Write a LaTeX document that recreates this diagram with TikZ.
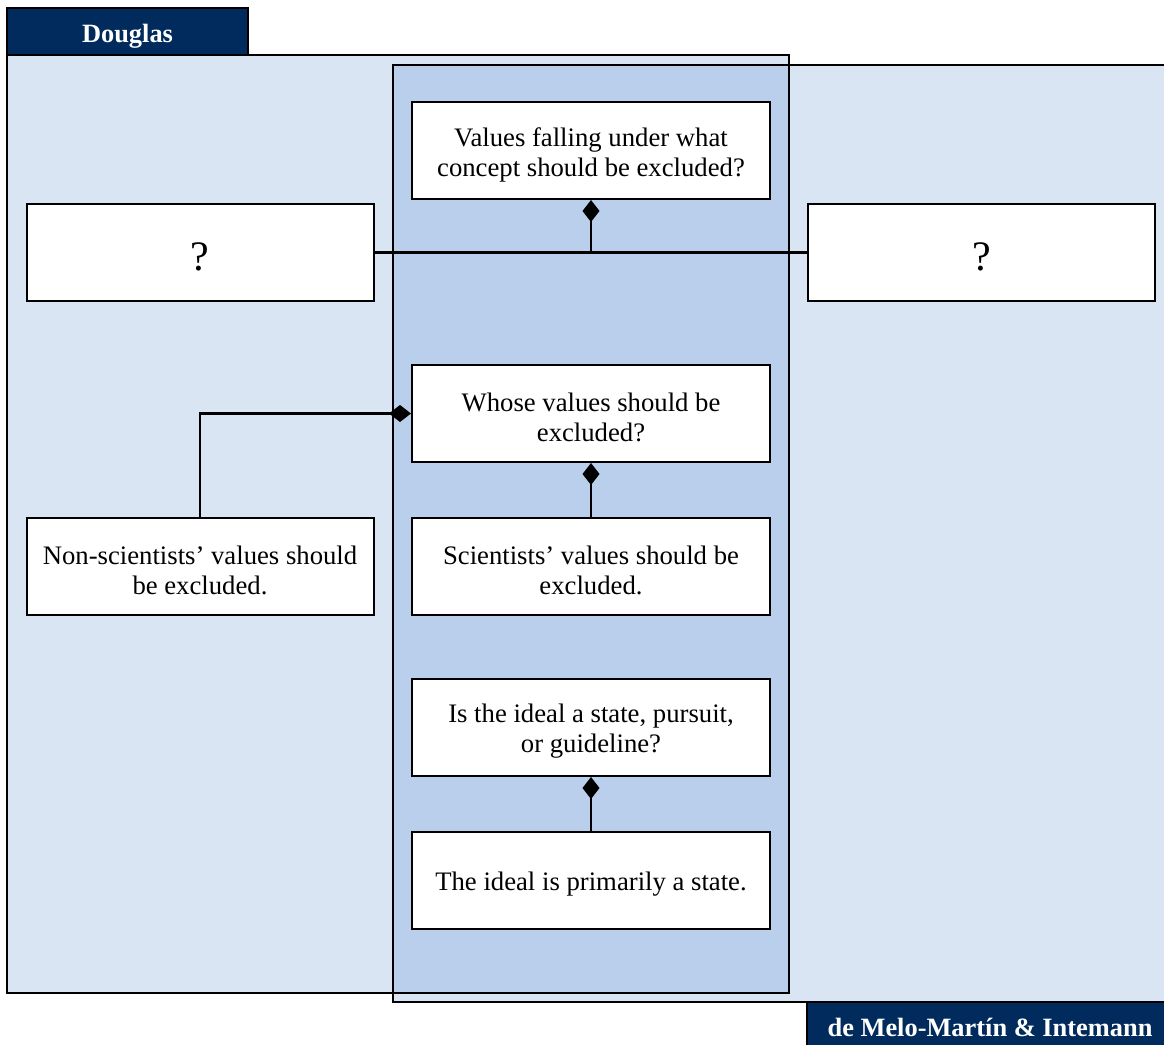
\documentclass[tikz,border=0pt]{standalone}
\usepackage{fontspec}
\setmainfont{Liberation Serif}
\usetikzlibrary{arrows.meta}
\definecolor{lightbg}{HTML}{DAE5F4}
\definecolor{overlapbg}{HTML}{BACFEB}
\definecolor{navy}{HTML}{002B5C}
\begin{document}
\begin{tikzpicture}[x=1pt,y=-1pt,
  qbox/.style={draw=black,fill=white,line width=2pt,minimum width=358pt,minimum height=97pt,inner sep=0pt},
  qtext/.style={align=center,font=\fontsize{26.7}{30}\selectfont,inner sep=0pt,yshift=-4pt},
  hdrtext/.style={text=white,font=\bfseries\fontsize{26.4}{30}\selectfont,inner sep=0pt,anchor=base},
  conn/.style={line width=2.5pt,-{Diamond[length=22pt,width=17pt]}},
  plain/.style={line width=2.5pt}]
\useasboundingbox (0,0) rectangle (1164,1044);
% region fills
\fill[lightbg] (7,55) rectangle (789,993);
\fill[lightbg] (393,65) rectangle (1166,1002);
\fill[overlapbg] (393,65) rectangle (789,993);
% region borders
\draw[line width=2pt] (7,55) rectangle (789,993);
\draw[line width=2pt] (1166,65) -- (393,65) -- (393,1002) -- (1166,1002);
% header labels
\draw[line width=2pt,fill=navy] (7,8) rectangle (248,55);
\node[hdrtext] (dl) at (127.5,42) {Douglas};
\draw[line width=2pt,fill=navy] (807,1002) rectangle (1166,1046);
\node[hdrtext] (ml) at (990,1036) {de Melo-Martín \& Intemann};
% boxes
\node[qbox] (q1) at (591,150.5) {};
\node[qbox,minimum width=347pt] (lq) at (200,252.5) {};
\node[qbox,minimum width=347pt] (rq) at (981.5,252.5) {};
\node[qbox] (w) at (591,413.5) {};
\node[qbox,minimum width=347pt] (n) at (200,566.5) {};
\node[qbox] (s) at (591,566.5) {};
\node[qbox] (i) at (591,727.5) {};
\node[qbox] (p) at (591,880.5) {};
% box texts
\node[qtext] (q1t) at (q1.center) {Values falling under what\\concept should be excluded?};
\node[qtext,font=\fontsize{42}{42}\selectfont] (lqt) at (lq.center) {?};
\node[qtext,font=\fontsize{42}{42}\selectfont] (rqt) at (rq.center) {?};
\node[qtext] (wt) at (w.center) {Whose values should be\\excluded?};
\node[qtext] (nt) at (n.center) {Non-scientists’ values should\\be excluded.};
\node[qtext] (st) at (s.center) {Scientists’ values should be\\excluded.};
\node[qtext] (it) at (i.center) {Is the ideal a state, pursuit,\\or guideline?};
\node[qtext] (pt) at (p.center) {The ideal is primarily a state.};
% connectors
\draw[plain] (lq.east) -- (rq.west);
\coordinate (j1) at (lq.east -| q1.south);
\draw[conn] (j1) -- (q1.south);
\draw[conn] (n.north) |- (w.west);
\draw[conn] (s.north) -- (w.south);
\draw[conn] (p.north) -- (i.south);
\end{tikzpicture}
\end{document}
